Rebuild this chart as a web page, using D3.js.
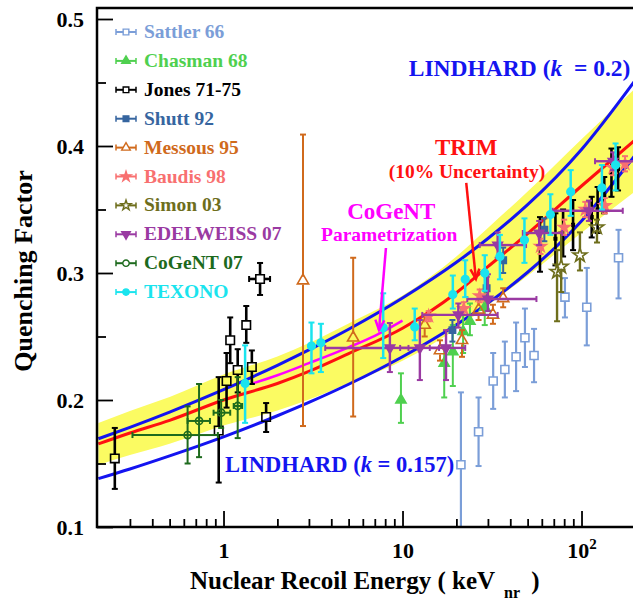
<!DOCTYPE html>
<html>
<head>
<meta charset="utf-8">
<script src="https://cdn.jsdelivr.net/npm/d3@7"></script>
<style>
  body { margin: 0; background: #fff; }
  svg text { font-family: "Liberation Serif", "Times New Roman", serif; font-weight: bold; }
</style>
</head>
<body>
<div id="chart"></div>
<script>
// ---- values ----
// curves: energy (keV_nr) and quenching factor
const curveE = [0.2, 0.3, 0.5, 1, 2, 3, 5, 10, 20, 30, 50, 100, 200]
const lindhardK200 = [0.1695, 0.1785, 0.1905, 0.2081, 0.2273, 0.2394, 0.2557, 0.2803, 0.3084, 0.3272, 0.3538, 0.3973, 0.452]
const lindhardK157 = [0.1381, 0.1457, 0.156, 0.171, 0.1876, 0.1981, 0.2124, 0.2341, 0.2593, 0.2763, 0.3006, 0.341, 0.393]
const trimQ = [0.1654, 0.174, 0.184, 0.2, 0.213, 0.2225, 0.2365, 0.2565, 0.2845, 0.305, 0.331, 0.3685, 0.405]
const trimBandHi = [0.1819, 0.1914, 0.2024, 0.22, 0.2343, 0.2448, 0.2602, 0.2822, 0.313, 0.3355, 0.3641, 0.4054, 0.4455]
const trimBandLo = [0.1489, 0.1566, 0.1656, 0.18, 0.1917, 0.2003, 0.2129, 0.2309, 0.2561, 0.2745, 0.2979, 0.3317, 0.3645]
const cogentParamE = [1.45, 2, 3, 5, 7, 10]
const cogentParamQ = [0.213, 0.2195, 0.229, 0.2415, 0.2505, 0.2625]

// data points: [E, q, qLow, qHigh, (eLow, eHigh)]
const sattler = [
  [21.2, 0.149, 0.09, 0.206], [26.6, 0.175, 0.148, 0.202], [32.1, 0.215, 0.193, 0.237],
  [37.3, 0.224, 0.202, 0.246], [43.1, 0.234, 0.207, 0.261], [48.3, 0.249, 0.226, 0.272],
  [54.3, 0.235, 0.214, 0.256], [80.8, 0.281, 0.265, 0.296], [107, 0.273, 0.243, 0.304],
  [161, 0.312, 0.28, 0.334]
]
const chasman = [
  [9.8, 0.2, 0.182, 0.221], [17.1, 0.229, 0.202, 0.243], [19.1, 0.238, 0.211, 0.259],
  [21.8, 0.254, 0.237, 0.271], [23.8, 0.262, 0.251, 0.276], [28.8, 0.273, 0.259, 0.287]
]
const jones = [
  [0.247, 0.154, 0.13, 0.178], [0.94, 0.176, 0.135, 0.218], [1.04, 0.215, 0.194, 0.237],
  [1.09, 0.247, 0.229, 0.265], [1.2, 0.2236, 0.206, 0.24], [1.34, 0.259, 0.245, 0.274],
  [1.44, 0.226, 0.2126, 0.239], [1.73, 0.1866, 0.1748, 0.1976], [1.6, 0.2953, 0.2827, 0.3079, 1.39, 1.82]
]
const jonesHigh = [
  [58.6, 0.322, 0.301, 0.344], [71.5, 0.327, 0.306, 0.347], [78.9, 0.331, 0.313, 0.35],
  [89.7, 0.338, 0.318, 0.3575], [114, 0.344, 0.328, 0.36], [123, 0.35, 0.3315, 0.3677],
  [134, 0.361, 0.347, 0.3756], [147, 0.379, 0.36, 0.398], [160, 0.382, 0.365, 0.399]
]
const shutt = [
  [19.0, 0.255, 0.246, 0.263], [29.5, 0.288, 0.28, 0.297], [36.5, 0.31, 0.3, 0.32], [62, 0.334, 0.325, 0.343]
]
const messous = [
  [2.78, 0.294, 0.1795, 0.409], [5.3, 0.249, 0.187, 0.312], [13.3, 0.259, 0.25, 0.267],
  [16.2, 0.239, 0.231, 0.247], [21.5, 0.247, 0.234, 0.255], [26.6, 0.271, 0.263, 0.279],
  [32, 0.267, 0.26, 0.275], [36.5, 0.28, 0.273, 0.288]
]
const baudis = [
  [14, 0.266, 0.262, 0.27], [22, 0.272, 0.267, 0.277], [27, 0.282, 0.277, 0.287],
  [59, 0.321, 0.315, 0.327], [80, 0.336, 0.33, 0.342], [105, 0.35, 0.344, 0.356],
  [135, 0.353, 0.347, 0.359], [150, 0.383, 0.377, 0.389], [175, 0.386, 0.38, 0.392]
]
const simon = [
  [73, 0.301, 0.262, 0.318], [77, 0.305, 0.285, 0.332], [98, 0.314, 0.302, 0.332], [122, 0.336, 0.324, 0.342]
]
const edelweiss = [
  [8.5, 0.241, 0.222, 0.2606, 3.7, 10.8], [12.5, 0.241, 0.2157, 0.263, 9.7, 16],
  [17.5, 0.241, 0.2157, 0.255, 14.2, 22.4], [20.5, 0.267, 0.257, 0.276, 12.9, 34],
  [30, 0.2795, 0.27, 0.299, 23, 56], [34, 0.322, 0.312, 0.332, 27, 49],
  [58, 0.3315, 0.322, 0.341, 47, 78], [110, 0.349, 0.341, 0.357, 69, 170],
  [150, 0.388, 0.381, 0.395, 119, 200]
]
const cogent07 = [
  [0.63, 0.1724, 0.15, 0.195, 0.31, 0.93], [0.73, 0.1835, 0.155, 0.2126, 0.63, 0.84],
  [0.97, 0.19, 0.178, 0.2, 0.88, 1.09], [1.2, 0.1953, 0.17, 0.218, 1.14, 1.27]
]
const texono = [
  [1.32, 0.213, 0.182, 0.243], [3.1, 0.2425, 0.221, 0.261], [3.5, 0.245, 0.222, 0.26],
  [7.8, 0.257, 0.233, 0.284], [11.7, 0.2575, 0.247, 0.272], [19.1, 0.283, 0.272, 0.298],
  [22.4, 0.295, 0.281, 0.31], [28.8, 0.3, 0.286, 0.314], [35, 0.313, 0.295, 0.33],
  [48, 0.326, 0.308, 0.343], [67, 0.346, 0.33, 0.362], [87, 0.364, 0.345, 0.381],
  [130, 0.367, 0.35, 0.385], [155, 0.385, 0.365, 0.402]
]

// axis ticks
const xMajorTicks = [1, 10, 100]
const yMajorTicks = [0.1, 0.2, 0.3, 0.4, 0.5]
const yMinorTicks = [0.15, 0.25, 0.35, 0.45]

// ---- layout ----
const svgWidth = 633
const svgHeight = 603
let plot = { left: 97, top: 8, right: 660, bottom: 527 }

let x = d3.scaleLog().domain([0.2, 200]).range([98.4, 635.4])
let y = d3.scaleLinear().domain([0.1, 0.5]).range([527, 19])

let svg = d3.select("#chart")
  .append("svg")
  .attr("width", svgWidth)
  .attr("height", svgHeight)

svg.append("defs").append("clipPath").attr("id", "plotClip")
  .append("rect")
  .attr("x", plot.left).attr("y", plot.top)
  .attr("width", plot.right - plot.left).attr("height", plot.bottom - plot.top)

let plotArea = svg.append("g").attr("clip-path", "url(#plotClip)")

// yellow TRIM band
plotArea.append("path")
  .datum(d3.zip(curveE, trimBandLo, trimBandHi))
  .attr("fill", "#fbfb62")
  .attr("d", d3.area()
    .x(d => x(d[0])).y0(d => y(d[1])).y1(d => y(d[2]))
    .curve(d3.curveMonotoneX))

function drawCurve(es, qs, color, width) {
  plotArea.append("path")
    .datum(d3.zip(es, qs))
    .attr("fill", "none")
    .attr("stroke", color)
    .attr("stroke-width", width)
    .attr("d", d3.line().x(d => x(d[0])).y(d => y(d[1])).curve(d3.curveMonotoneX))
}
drawCurve(curveE, lindhardK200, "#1414f0", 3)
drawCurve(curveE, lindhardK157, "#1414f0", 3)
drawCurve(curveE, trimQ, "#ff1010", 3)
drawCurve(cogentParamE, cogentParamQ, "#ff00ff", 2.5)

// ---- data series ----
const series = [
  { name: "Sattler 66", data: sattler, color: "#7b9ed8", symbol: d3.symbolSquare, open: true, size: 64, half: 4, width: 2.2 },
  { name: "Chasman 68", data: chasman, color: "#4fd04f", symbol: d3.symbolTriangle, open: false, size: 45, width: 2 },
  { name: "Jones 71-75", data: jones, color: "#000", symbol: d3.symbolSquare, open: true, size: 72, half: 4.3, width: 2.6 },
  { name: "Shutt 92", data: shutt, color: "#36659f", symbol: d3.symbolSquare, open: false, size: 40, width: 2 },
  { name: "Messous 95", data: messous, color: "#d06a1c", symbol: d3.symbolTriangle, open: true, size: 55, half: 4, width: 2 },
  { name: "Baudis 98", data: baudis, color: "#f87070", symbol: d3.symbolStar, open: false, size: 40, width: 1.8 },
  { name: "Simon 03", data: simon, color: "#6e6e1c", symbol: d3.symbolStar, open: true, size: 60, half: 4, width: 2.4 },
  { name: "EDELWEISS 07", data: edelweiss, color: "#9a3aa2", symbol: d3.symbolTriangle, rotate: 180, open: false, size: 40, width: 2.4 },
  { name: "CoGeNT 07", data: cogent07, color: "#1d6a1d", symbol: d3.symbolCircle, open: true, size: 40, half: 0, width: 2 },
  { name: "TEXONO", data: texono, color: "#1ae4ee", symbol: d3.symbolCircle, open: false, size: 46, width: 2.5 }
]

let dataGroup = plotArea.append("g")

function seg(g, x1, y1, x2, y2, color, width) {
  g.append("line")
    .attr("x1", x1).attr("y1", y1).attr("x2", x2).attr("y2", y2)
    .attr("stroke", color).attr("stroke-width", width)
}

function drawPoint(g, d, s, size) {
  let cx = x(d[0]), cy = y(d[1])
  let half = s.open ? s.half : 0
  let cap = 3
  let yHi = y(d[3]), yLo = y(d[2])
  if (yHi < cy - half) seg(g, cx, yHi, cx, cy - half, s.color, s.width)
  if (yLo > cy + half) seg(g, cx, cy + half, cx, yLo, s.color, s.width)
  seg(g, cx - cap, yHi, cx + cap, yHi, s.color, 2)
  seg(g, cx - cap, yLo, cx + cap, yLo, s.color, 2)
  if (d.length > 4) {
    let xLo = x(d[4]), xHi = x(d[5])
    seg(g, xLo, cy, cx - half, cy, s.color, s.width)
    seg(g, cx + half, cy, xHi, cy, s.color, s.width)
    seg(g, xLo, cy - cap, xLo, cy + cap, s.color, 2)
    seg(g, xHi, cy - cap, xHi, cy + cap, s.color, 2)
  }
  g.append("path")
    .attr("d", d3.symbol().type(s.symbol).size(size)())
    .attr("transform", `translate(${cx},${cy}) rotate(${s.rotate || 0})`)
    .attr("fill", s.open ? "none" : s.color)
    .attr("stroke", s.color)
    .attr("stroke-width", 1.6)
}

// high-energy Jones bars (small markers)
let jonesHighStyle = { color: "#000", symbol: d3.symbolSquare, open: false, width: 2.6 }
jonesHigh.forEach(d => drawPoint(dataGroup, d, jonesHighStyle, 6))

series.forEach(s => {
  s.data.forEach(d => drawPoint(dataGroup, d, s, s.size))
})

// ---- legend ----
let legend = svg.append("g")
series.forEach((s, i) => {
  let baseY = 38 + i * 28.9
  let cy = baseY - 6
  let row = legend.append("g")
  seg(row, 116, cy, 136, cy, s.color, 2)
  seg(row, 116, cy - 3, 116, cy + 3, s.color, 1.5)
  seg(row, 136, cy - 3, 136, cy + 3, s.color, 1.5)
  row.append("path")
    .attr("d", d3.symbol().type(s.symbol).size(32)())
    .attr("transform", `translate(126,${cy}) rotate(${s.rotate || 0})`)
    .attr("fill", s.open ? "#fff" : s.color)
    .attr("stroke", s.color)
    .attr("stroke-width", 1.4)
  row.append("text")
    .attr("x", 144)
    .attr("y", baseY)
    .attr("font-size", 19.5)
    .attr("fill", s.color)
    .text(s.name)
})

// ---- annotations ----
function arrow(e1, q1, e2, q2, color) {
  let x1 = x(e1), y1 = y(q1), x2 = x(e2), y2 = y(q2)
  seg(svg, x1, y1, x2, y2, color, 2.5)
  let ang = Math.atan2(y2 - y1, x2 - x1)
  let len = 11, spread = 0.42
  svg.append("path")
    .attr("d", `M${x2 - len * Math.cos(ang - spread)},${y2 - len * Math.sin(ang - spread)}L${x2},${y2}L${x2 - len * Math.cos(ang + spread)},${y2 - len * Math.sin(ang + spread)}`)
    .attr("fill", "none").attr("stroke", color).attr("stroke-width", 2.5)
}
arrow(22.7, 0.3709, 25.7, 0.2953, "#ff1010")
arrow(8.08, 0.3197, 7.39, 0.2551, "#ff00ff")

function label(e, q, txt, size, color, anchor) {
  return svg.append("text")
    .attr("x", x(e)).attr("y", y(q))
    .attr("font-size", size)
    .attr("fill", color)
    .attr("text-anchor", anchor || "middle")
    .text(txt)
}
label(22.7, 0.3932, "TRIM", 23, "#ff1010")
label(22.9, 0.3748, "(10% Uncertainty)", 19.5, "#ff1010")
label(8.65, 0.3425, "CoGeNT", 23, "#ff00ff")
label(8.43, 0.3252, "Parametrization", 19.5, "#ff00ff")

let lindUp = label(187.6, 0.4551, "LINDHARD (", 23.5, "#1414f0", "end")
lindUp.append("tspan").attr("font-style", "italic").text("k")
lindUp.append("tspan").text("  = 0.2)")
lindUp.attr("xml:space", "preserve")

let lindLow = label(1.02, 0.1433, "LINDHARD (", 22.5, "#1414f0", "start")
lindLow.append("tspan").attr("font-style", "italic").text("k")
lindLow.append("tspan").text(" = 0.157)")

// ---- axes ----
svg.append("rect")
  .attr("x", plot.left).attr("y", plot.top)
  .attr("width", plot.right - plot.left).attr("height", plot.bottom - plot.top)
  .attr("fill", "none").attr("stroke", "#000").attr("stroke-width", 2.5)

let xMinor = x.ticks().filter(t => xMajorTicks.indexOf(t) < 0 && t > 0.2)
let xAxisMinor = svg.append("g")
  .attr("transform", `translate(0, ${plot.bottom})`)
  .call(d3.axisBottom(x).tickValues(xMinor).tickSize(-8).tickFormat(""))
let xAxis = svg.append("g")
  .attr("transform", `translate(0, ${plot.bottom})`)
  .call(d3.axisBottom(x).tickValues(xMajorTicks).tickSize(-16).tickPadding(15)
    .tickFormat(d => d === 100 ? "10" : d3.format("")(d)))
xAxis.selectAll("text").attr("font-size", 22).attr("fill", "#000")
xAxis.selectAll(".tick").filter(d => d === 100).select("text")
  .append("tspan").attr("font-size", 15).attr("dy", "-0.6em").text("2")

let yAxisMinor = svg.append("g")
  .attr("transform", `translate(${plot.left}, 0)`)
  .call(d3.axisLeft(y).tickValues(yMinorTicks).tickSize(-9).tickFormat(""))
let yAxis = svg.append("g")
  .attr("transform", `translate(${plot.left}, 0)`)
  .call(d3.axisLeft(y).tickValues(yMajorTicks).tickSize(-16).tickPadding(13).tickFormat(d3.format(".1f")))
yAxis.selectAll("text").attr("font-size", 22).attr("fill", "#000")

;[xAxisMinor, xAxis, yAxisMinor, yAxis].forEach(a => {
  a.select(".domain").remove()
  a.selectAll("line").attr("stroke-width", 1.8)
})

// axis titles
svg.append("text")
  .attr("transform", "translate(32, 271) rotate(-90)")
  .attr("text-anchor", "middle")
  .attr("font-size", 26)
  .text("Quenching Factor")

let xTitle = svg.append("text")
  .attr("x", 190)
  .attr("y", 589)
  .attr("font-size", 25)
  .attr("xml:space", "preserve")
  .text("Nuclear Recoil Energy ( keV")
xTitle.append("tspan").attr("font-size", 16).attr("dx", 9).attr("dy", 9).text("nr")
xTitle.append("tspan").attr("dx", 5).attr("dy", -9).text(" )")
</script>
</body>
</html>
